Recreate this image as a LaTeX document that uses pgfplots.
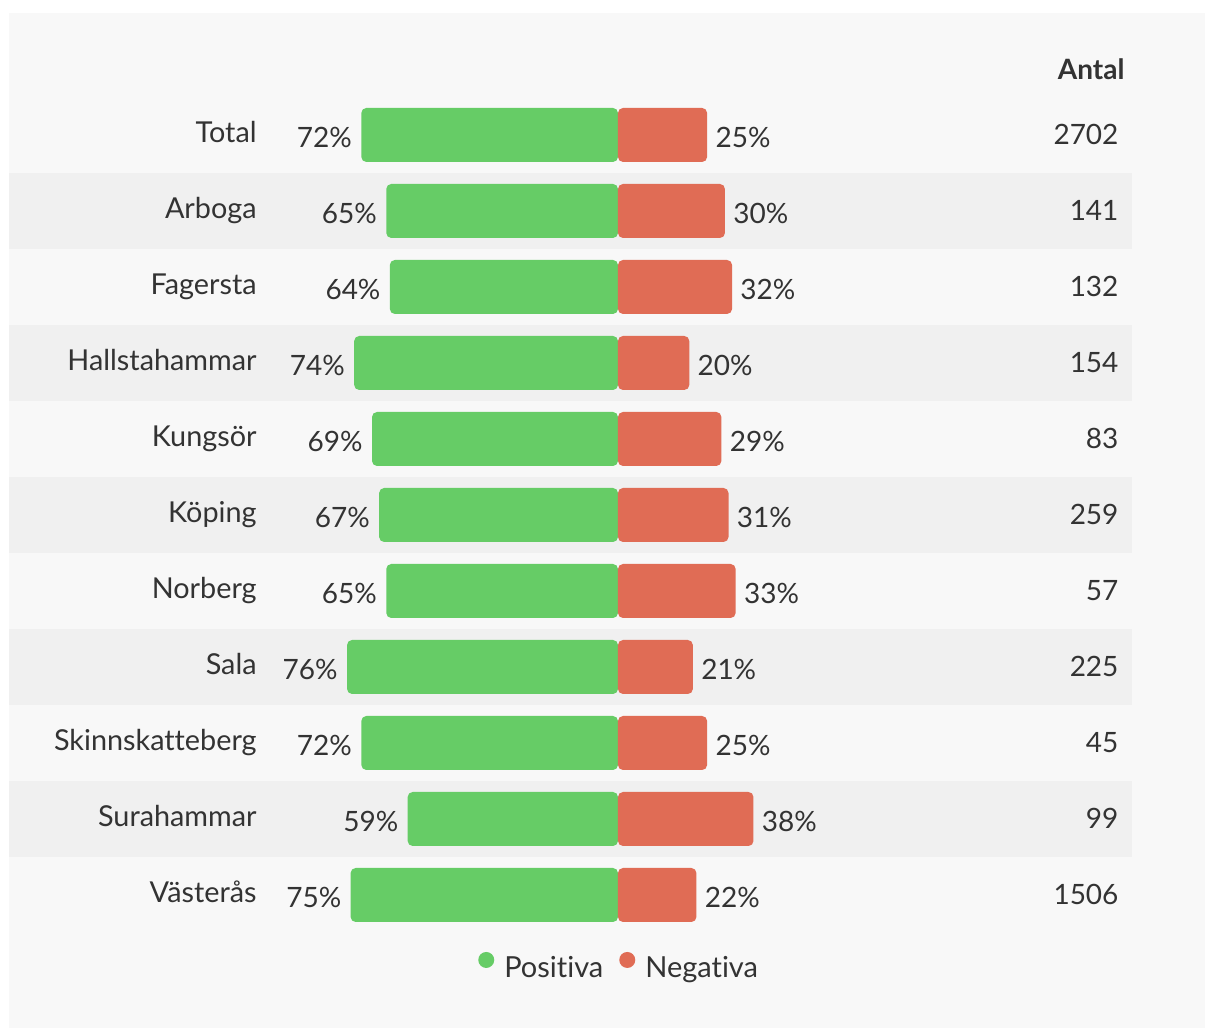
\documentclass[border=0pt]{standalone}
\usepackage{pgfplots}
\pgfplotsset{compat=1.18}
\usepackage{pgfplotstable}
\usepackage{fontspec}
\setmainfont{Lato}[Ligatures={NoCommon}]
\definecolor{posgreen}{RGB}{102,204,102}
\definecolor{negred}{RGB}{224,108,85}
\definecolor{txt}{RGB}{51,51,51}
\definecolor{panel}{RGB}{248,248,248}
\definecolor{band}{RGB}{240,240,240}

\pgfplotstableread{
idx pos neg posabs n
0  -72 25 72 2702
1  -65 30 65 141
2  -64 32 64 132
3  -74 20 74 154
4  -69 29 69 83
5  -67 31 67 259
6  -65 33 65 57
7  -76 21 76 225
8  -72 25 72 45
9  -59 38 59 99
10 -75 22 75 1506
}\data

\begin{document}
\begin{tikzpicture}[font=\fontsize{14pt}{17pt}\selectfont, text=txt]
\begin{axis}[
  set layers=standard,
  scale only axis, width=602.5pt, height=514pt,
  xmin=-173.35, xmax=164.66,
  ymin=-1.776, ymax=11.75, y dir=reverse,
  axis line style={draw=none},
  major tick style={draw=none},
  xtick=\empty,
  ytick={0,...,10},
  yticklabels={Total,Arboga,Fagersta,Hallstahammar,Kungsör,Köping,Norberg,Sala,Skinnskatteberg,Surahammar,Västerås},
  yticklabel style={anchor=base east, xshift=128.5pt, yshift=-4pt, inner sep=0pt, text=txt,
    font=\fontsize{14.4pt}{17pt}\selectfont},
  /pgf/number format/assume math mode=true,
  clip=false,
  legend style={at={(axis cs:0.6,10.96)}, anchor=center, draw=none, fill=none,
    legend columns=-1, font=\fontsize{14.5pt}{17pt}\selectfont, text=txt,
    /tikz/every odd column/.append style={column sep=3pt},
    /tikz/every even column/.append style={column sep=6pt}},
]
\begin{pgfonlayer}{axis background}
\fill[panel] (axis cs:-170.8,-1.605) rectangle (axis cs:164.66,11.75);
\fill[band] (axis cs:-170.8,0.5) rectangle (axis cs:144.2,1.5);
\fill[band] (axis cs:-170.8,2.5) rectangle (axis cs:144.2,3.5);
\fill[band] (axis cs:-170.8,4.5) rectangle (axis cs:144.2,5.5);
\fill[band] (axis cs:-170.8,6.5) rectangle (axis cs:144.2,7.5);
\fill[band] (axis cs:-170.8,8.5) rectangle (axis cs:144.2,9.5);
\end{pgfonlayer}

\addplot[xbar, fill=posgreen, draw=none, bar width=27pt, bar shift=0pt, rounded corners=2.5pt,
  point meta=explicit,
  nodes near coords={\pgfmathprintnumber{\pgfplotspointmeta}\%},
  nodes near coords style={anchor=base east, inner sep=0pt, xshift=-4.5pt, yshift=-6.5pt, text=txt},
  legend image code/.code={\fill[posgreen] (3pt,4pt) circle (4pt);}]
  table[x=pos, y=idx, meta=posabs]{\data};
\addlegendentry{Positiva}
\addplot[xbar, fill=negred, draw=none, bar width=27pt, bar shift=0pt, rounded corners=2.5pt,
  point meta=explicit,
  nodes near coords={\pgfmathprintnumber{\pgfplotspointmeta}\%},
  nodes near coords style={anchor=base west, inner sep=0pt, xshift=4pt, yshift=-6.5pt, text=txt},
  legend image code/.code={\fill[negred] (3pt,4pt) circle (4pt);}]
  table[x=neg, y=idx, meta=neg]{\data};
\addlegendentry{Negativa}

\node[anchor=base east, inner sep=0pt, font=\fontsize{14pt}{17pt}\selectfont\bfseries] at (axis cs:142.2,-0.724) {Antal};
\node[anchor=base east, inner sep=0pt, yshift=-5pt] at (axis cs:140.5,0) {2702};
\node[anchor=base east, inner sep=0pt, yshift=-5pt] at (axis cs:140.5,1) {141};
\node[anchor=base east, inner sep=0pt, yshift=-5pt] at (axis cs:140.5,2) {132};
\node[anchor=base east, inner sep=0pt, yshift=-5pt] at (axis cs:140.5,3) {154};
\node[anchor=base east, inner sep=0pt, yshift=-5pt] at (axis cs:140.5,4) {83};
\node[anchor=base east, inner sep=0pt, yshift=-5pt] at (axis cs:140.5,5) {259};
\node[anchor=base east, inner sep=0pt, yshift=-5pt] at (axis cs:140.5,6) {57};
\node[anchor=base east, inner sep=0pt, yshift=-5pt] at (axis cs:140.5,7) {225};
\node[anchor=base east, inner sep=0pt, yshift=-5pt] at (axis cs:140.5,8) {45};
\node[anchor=base east, inner sep=0pt, yshift=-5pt] at (axis cs:140.5,9) {99};
\node[anchor=base east, inner sep=0pt, yshift=-5pt] at (axis cs:140.5,10) {1506};

\coordinate (SW) at (rel axis cs:0,1);
\coordinate (NE) at (rel axis cs:1,0);
\end{axis}
\pgfresetboundingbox
\path[use as bounding box] (SW) rectangle (NE);
\end{tikzpicture}
\end{document}
